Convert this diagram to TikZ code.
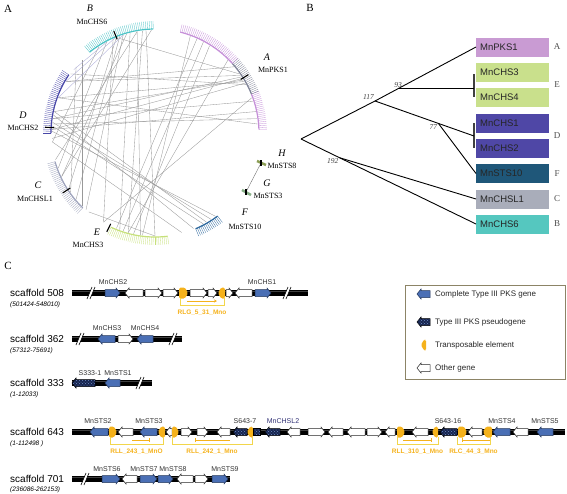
\documentclass[tikz,border=0pt]{standalone}
\usepackage{fontspec}
\setmainfont{Liberation Serif}
\setsansfont{Liberation Sans}
\usetikzlibrary{arrows.meta,patterns,positioning}

\definecolor{pksblue}{HTML}{4A6FB5}
\definecolor{pseudonavy}{HTML}{16244F}
\definecolor{teorange}{HTML}{F5B21C}
\definecolor{ltryellow}{HTML}{F2D64B}
\definecolor{framecol}{HTML}{8C8466}
\definecolor{boxpks}{HTML}{C99BD3}
\definecolor{boxchs}{HTML}{C9E08C}
\definecolor{boxchsd}{HTML}{4F47A6}
\definecolor{boxsts}{HTML}{1F5779}
\definecolor{boxchsl}{HTML}{A9ADBA}
\definecolor{boxchssix}{HTML}{55C7BF}
\definecolor{arcpurple}{HTML}{C58FD8}
\definecolor{arccyan}{HTML}{4CC3C6}
\definecolor{arcblue}{HTML}{4847A8}
\definecolor{arcgray}{HTML}{9EA3BC}
\definecolor{arcgreen}{HTML}{C6E07A}
\definecolor{arcteal}{HTML}{2C679D}

\tikzset{
  panel/.style={font=\fontsize{11}{12}\selectfont, inner sep=0pt},
  chord/.style={draw=black!40, line width=0.35pt},
  bluechord/.style={draw=arcblue!45, line width=0.35pt},
  locus/.style={line width=1.1pt, black},
  cladename/.style={font=\itshape\fontsize{10}{11}\selectfont, inner sep=0pt},
  locusname/.style={font=\fontsize{8}{9}\selectfont, inner sep=0pt},
  branch/.style={line width=0.9pt, black},
  cladebar/.style={line width=1.6pt, black!75},
  leafbox/.style={anchor=west, minimum height=19pt, text width=65pt, inner xsep=4pt,
    inner ysep=0pt, align=left, font=\sffamily\fontsize{9.5}{10}\selectfont, text=black!85},
  bootstrap/.style={font=\itshape\fontsize{7.5}{8}\selectfont, inner sep=1pt, text=black!75},
  cladeletter/.style={font=\fontsize{9}{10}\selectfont, text=black!70, inner sep=0pt},
  scafline/.style={line width=5.5pt, black},
  scafshine/.style={line width=0.8pt, black!75},
  other/.style={draw=black!85, fill=white, line width=0.5pt},
  pks/.style={draw=pksblue!50!black, fill=pksblue, line width=0.5pt},
  pseudo/.style={draw=black, line width=0.5pt, preaction={fill=pseudonavy},
    pattern=crosshatch dots, pattern color=pksblue!80},
  te/.style={fill=teorange},
  ltrbox/.style={draw=ltryellow, line width=0.8pt},
  ltrarrow/.style={draw=teorange, line width=0.9pt},
  genelabel/.style={font=\sffamily\fontsize{7}{8}\selectfont, text=black!80, inner sep=0pt},
  ltrlabel/.style={font=\sffamily\bfseries\fontsize{6.5}{7}\selectfont, text=teorange, inner sep=0pt},
  scafname/.style={font=\sffamily\fontsize{10}{11}\selectfont, anchor=west, inner sep=0pt},
  scafrange/.style={font=\sffamily\itshape\fontsize{6.5}{7}\selectfont, anchor=west, inner sep=0pt},
  legendbox/.style={draw=framecol, line width=1pt},
  legendtext/.style={font=\sffamily\fontsize{8}{9}\selectfont, anchor=west, inner sep=0pt, text=black!85},
}

% ideogram with radial ticks, angles in degrees
\newcommand{\tickarc}[3]{%
  \draw[#3, line width=1.2pt] (#1:104pt) arc[start angle=#1, end angle=#2, radius=104pt];
  \foreach \t in {#1,...,#2} \draw[#3, line width=0.3pt] (\t:104pt) -- (\t:112pt);}
% scaffold line and break mark
\newcommand{\scaf}[3]{\draw[scafline] (#1,#3) -- (#2,#3);
  \draw[scafshine] (#1,#3-1.2) -- (#2,#3-1.2);}
\newcommand{\brk}[2]{\fill[white] (#1-4,#2+6) -- (#1-1,#2+6) -- (#1+4,#2-6) -- (#1+1,#2-6) -- cycle;
  \draw[line width=0.6pt] (#1-4,#2+6) -- (#1+1,#2-6) (#1-1,#2+6) -- (#1+4,#2-6);}
% genes pointing right / left
\newcommand{\gr}[4][other]{\draw[#1] (#2,#4-3.5) -- (#3-4,#4-3.5) -- (#3-4,#4-5) -- (#3,#4)
  -- (#3-4,#4+5) -- (#3-4,#4+3.5) -- (#2,#4+3.5) -- cycle;}
\newcommand{\gl}[4][other]{\draw[#1] (#3,#4-3.5) -- (#2+4,#4-3.5) -- (#2+4,#4-5) -- (#2,#4)
  -- (#2+4,#4+5) -- (#2+4,#4+3.5) -- (#3,#4+3.5) -- cycle;}
% transposable element ends
\newcommand{\ter}[3]{\fill[te, rounded corners=1.5pt] (#1,#3-5.5) -- (#2-3,#3-5.5) -- (#2,#3)
  -- (#2-3,#3+5.5) -- (#1,#3+5.5) -- cycle;}
\newcommand{\tel}[3]{\fill[te, rounded corners=1.5pt] (#2,#3-5.5) -- (#1+3,#3-5.5) -- (#1,#3)
  -- (#1+3,#3+5.5) -- (#2,#3+5.5) -- cycle;}
% LTR bracket: name, x1, x2, y, tips, from, to, label
\newcommand{\ltr}[8]{\draw[ltrbox] (#2,#4+5) -- (#2,#4+12) -- (#3,#4+12) -- (#3,#4+5);
  \draw[ltrarrow, #5] (#6,#4+8) -- (#7,#4+8);
  \node[ltrlabel] (#1) at ({(#2+#3)/2},#4+20) {#8};}

\begin{document}
\begin{tikzpicture}[x=1pt, y=-1pt]
\useasboundingbox (0,0) rectangle (567,493);

\node[panel] (pa) at (8,9) {A};
\node[panel] (pb) at (310,8) {B};
\node[panel] (pc) at (8,266) {C};

% A: circle of loci
\begin{scope}[shift={(155,133)}]
  \foreach \a/\b in {112/213, 110/220, 108/228, 106/205, 104/250, 100/262, 97/255,
      114/240, 118/200, 123/185, 95/270, 32/178, 33/172, 31/168, 30/160, 34/150,
      29/183, 35/112, 62/252, 58/258, 66/248, 70/263, 176/298, 174/303, 170/292,
      179/306, 168/300, 178/12, 175/8, 172/18, 160/5, 150/40, 145/28, 140/215,
      135/225, 195/100, 205/92, 240/20, 255/45, 185/285, 230/270}
    \draw[chord] (\a:103pt) -- (\b:103pt);
  \foreach \a/\b in {150/113, 160/108, 142/118}
    \draw[bluechord] (\a:103pt) -- (\b:103pt);
  \tickarc{91}{129}{arccyan}
  \tickarc{2}{22}{arcpurple}
  \tickarc{22}{42}{arcgray!80!black}
  \tickarc{42}{76}{arcpurple}
  \tickarc{146}{180}{arcblue}
  \tickarc{196}{226}{arcgray}
  \tickarc{245}{277}{arcgreen}
  \tickarc{293}{307}{arcteal}
  \foreach \a in {32,112,177,213,244}
    \draw[locus] (\a:101pt) -- (\a:110pt);
\end{scope}
\coordinate (hmark) at (261,163);
\coordinate (gmark) at (246,192);
\draw[chord, black!60] (hmark) -- (gmark);
\draw[arcgreen!70!black, line width=2.5pt] (257,161) -- (266,165);
\draw[arcteal!40!arcgreen, line width=2.5pt] (242,190) -- (251,195);
\draw[locus] (hmark) ++(0,-3) -- ++(0,6);
\draw[locus] (gmark) ++(0,-3) -- ++(0,6);

\node[cladename] (ca) at (267,57) {A};
\node[locusname] (lpks) at (273,70) {MnPKS1};
\node[cladename] (cb) at (90,8) {B};
\node[locusname] (lchssix) at (92,22) {MnCHS6};
\node[cladename] (cd) at (23,115) {D};
\node[locusname] (lchstwo) at (23,128) {MnCHS2};
\node[cladename] (cc) at (38,185) {C};
\node[locusname] (lchsl) at (35,199) {MnCHSL1};
\node[cladename] (ce) at (97,232) {E};
\node[locusname] (lchsthree) at (88,245) {MnCHS3};
\node[cladename] (cf) at (245,212) {F};
\node[locusname] (lststen) at (245,227) {MnSTS10};
\node[cladename] (ch) at (282,153) {H};
\node[locusname] (lstseight) at (282,166) {MnSTS8};
\node[cladename] (cg) at (267,183) {G};
\node[locusname] (lststhree) at (268,196) {MnSTS3};

% B: tree
\node[leafbox, fill=boxpks] (pks1) at (476,47) {MnPKS1};
\node[leafbox, fill=boxchs] (chs3) at (476,72.5) {MnCHS3};
\node[leafbox, fill=boxchs] (chs4) at (476,97.5) {MnCHS4};
\node[leafbox, fill=boxchsd] (chs1) at (476,123) {MnCHS1};
\node[leafbox, fill=boxchsd] (chs2) at (476,148) {MnCHS2};
\node[leafbox, fill=boxsts] (sts10) at (476,173.5) {MnSTS10};
\node[leafbox, fill=boxchsl] (chsl1) at (476,199) {MnCHSL1};
\node[leafbox, fill=boxchssix] (chs6) at (476,224) {MnCHS6};
\node[cladeletter] (ka) at (557,47) {A};
\node[cladeletter] (ke) at (557,85) {E};
\node[cladeletter] (kd) at (557,136) {D};
\node[cladeletter] (kf) at (557,173.5) {F};
\node[cladeletter] (kc) at (557,199) {C};
\node[cladeletter] (kb) at (557,224) {B};

\coordinate (root) at (301,139);
\coordinate (n117) at (375,101);
\coordinate (barEt) at (474,74);
\coordinate (barEb) at (474,97);
\coordinate (barDt) at (474,123);
\coordinate (barDm) at (474,136);
\coordinate (barDb) at (474,148);
\draw[cladebar] (barEt) -- (barEb);
\draw[cladebar] (barDt) -- (barDb);
\draw[branch] (root) -- (n117);
\draw[branch] (n117) -- coordinate[pos=0.23] (n93) (pks1.west);
\draw[branch] (n93) -- (n93 -| barEt);
\draw[branch] (n117) -- coordinate[pos=0.64] (n77) (barDm);
\draw[branch] (n77) -- (sts10.west);
\draw[branch] (root) -- coordinate[pos=0.22] (n192) (chs6.west);
\draw[branch] (n192) -- (chsl1.west);
\node[bootstrap, anchor=south east] (b117) at (n117) {117};
\node[bootstrap, anchor=south] (b93) at (n93) {93};
\node[bootstrap, anchor=north east] (b77) at (n77) {77};
\node[bootstrap, anchor=north east] (b192) at (n192) {192};

% C: gene map
% scaffold 508
\node[scafname] (s508) at (10,293) {scaffold 508};
\node[scafrange] (r508) at (10,305) {(501424-548010)};
\scaf{72}{308}{293}
\brk{91}{293} \brk{287}{293}
\gr[pks]{105}{120}{293} \gl{125}{143}{293} \gr{145}{162}{293} \gr{163}{178}{293}
\ter{179}{188}{293} \gr{190}{207}{293} \gr{208}{217}{293} \tel{218}{225}{293}
\gr{226}{233}{293} \gl{235}{252}{293} \gr[pks]{255}{271}{293}
\node[genelabel] (gchstwo) at (113,282) {MnCHS2};
\node[genelabel] (gchsone) at (262,282) {MnCHS1};
\ltr{lrlg}{180}{224}{293}{-{Stealth[length=3pt,width=3pt]}}{187}{217}{RLG\_5\_31\_Mno}

% scaffold 362
\node[scafname] (s362) at (10,339) {scaffold 362};
\node[scafrange] (r362) at (10,351) {(57312-75691)};
\scaf{72}{182}{339}
\brk{80}{339} \brk{173}{339}
\gl[pks]{98}{115}{339} \gr{118}{133}{339} \gl[pks]{137}{153}{339}
\node[genelabel] (gchsthree) at (107,328) {MnCHS3};
\node[genelabel] (gchsfour) at (145,328) {MnCHS4};

% scaffold 333
\node[scafname] (s333) at (10,383) {scaffold 333};
\node[scafrange] (r333) at (10,395) {(1-12033)};
\scaf{72}{152}{383}
\brk{140}{383}
\gl[pseudo]{72}{95}{383} \gl[pks]{105}{120}{383}
\node[genelabel] (gsone) at (90,373) {S333-1};
\node[genelabel] (gstsone) at (118,373) {MnSTS1};

% scaffold 643
\node[scafname] (s643) at (10,432) {scaffold 643};
\node[scafrange] (r643) at (10,444) {(1-112498 )};
\scaf{72}{565}{432}
\gl[pks]{90}{108}{432} \ter{109}{117}{432} \gl{118}{133}{432} \gl[pks]{140}{157}{432}
\tel{158}{165}{432} \gl{166}{172}{432} \ter{172}{179}{432} \gr{181}{192}{432}
\gr{197}{208}{432} \gl{217}{230}{432} \gl[pseudo]{233}{247}{432} \tel{247}{253}{432}
\draw[pseudo] (253,428.5) rectangle (260,435.5);
\gl[pseudo]{265}{280}{432} \gl{287}{300}{432} \gr{308}{325}{432} \gl{328}{343}{432}
\gl{347}{365}{432} \gr{367}{382}{432} \gl{385}{395}{432} \ter{397}{405}{432}
\gl{412}{428}{432} \tel{432}{438}{432} \gl[pseudo]{440}{457}{432} \ter{458}{467}{432}
\gl{468}{482}{432} \tel{483}{492}{432} \gl[pks]{493}{510}{432} \gl{513}{528}{432}
\gl[pks]{537}{553}{432}
\node[genelabel] (gststwo) at (98,421) {MnSTS2};
\node[genelabel] (gststhree) at (149,421) {MnSTS3};
\node[genelabel] (gsseven) at (245,421) {S643-7};
\node[genelabel, text=arcblue!70!black] (gchsltwo) at (283,421) {MnCHSL2};
\node[genelabel] (gssixteen) at (448,421) {S643-16};
\node[genelabel] (gstsfour) at (502,421) {MnSTS4};
\node[genelabel] (gstsfive) at (545,421) {MnSTS5};
\ltr{lrlla}{110}{163}{432}{-{Bar[width=4pt]}}{132}{150}{RLL\_243\_1\_MnO}
\ltr{lrllb}{172}{252}{432}{-{Bar[width=4pt]}}{230}{195}{RLL\_242\_1\_Mno}
\ltr{lrllc}{397}{438}{432}{-{Bar[width=4pt]}}{403}{432}{RLL\_310\_1\_Mno}
\ltr{lrlc}{457}{490}{432}{-{Bar[width=4pt]}}{490}{462}{RLC\_44\_3\_Mno}

% scaffold 701
\node[scafname] (s701) at (10,479) {scaffold 701};
\node[scafrange] (r701) at (10,490) {(236086-262153)};
\scaf{72}{230}{479}
\brk{85}{479}
\gr[pks]{102}{120}{479} \gl{122}{137}{479} \gr[pks]{140}{157}{479} \gr[pks]{158}{173}{479}
\gl{177}{193}{479} \gr{195}{208}{479} \gr[pks]{212}{228}{479}
\node[genelabel] (gstssix) at (107,469) {MnSTS6};
\node[genelabel] (gstsseven) at (144,469) {MnSTS7};
\node[genelabel] (gstseight) at (173,469) {MnSTS8};
\node[genelabel] (gstsnine) at (225,469) {MnSTS9};

% legend
\draw[legendbox] (405,285) rectangle (565,379);
\gl[pks]{417}{430}{294}
\gl[pseudo]{417}{430}{322}
\tel{421}{426}{345}
\gl{417}{430}{368}
\node[legendtext] (lgpks) at (435,294) {Complete Type III PKS gene};
\node[legendtext] (lgpseudo) at (435,322) {Type III PKS pseudogene};
\node[legendtext] (lgte) at (435,345) {Transposable element};
\node[legendtext] (lgother) at (435,368) {Other gene};
\end{tikzpicture}
\end{document}
